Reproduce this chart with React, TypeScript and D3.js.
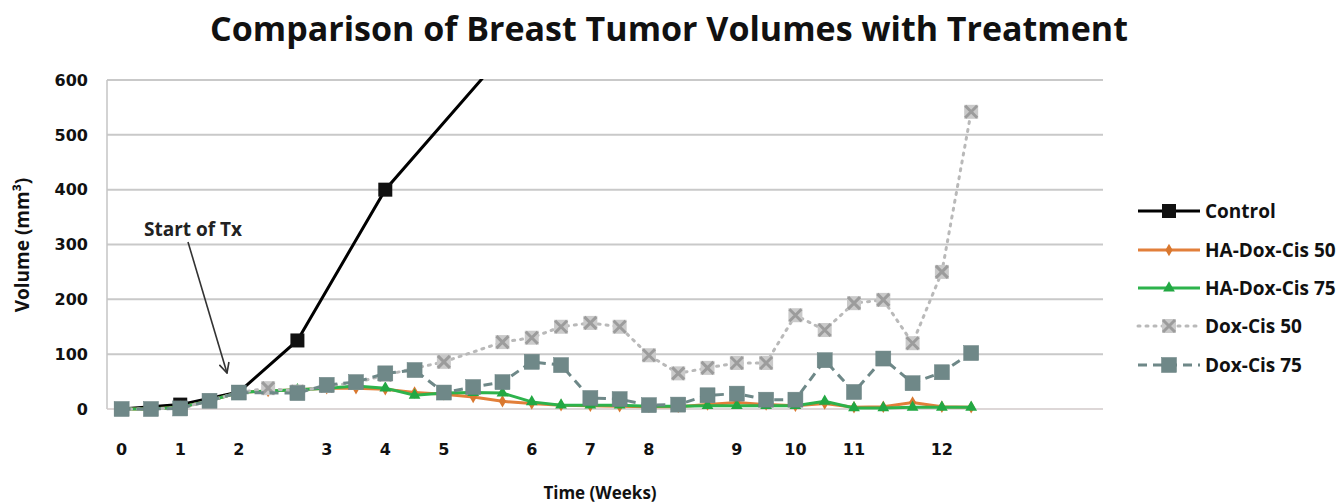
import React from 'react';
import * as d3 from 'd3';

// x categories (time points); only some carry a week label
const xLabels = ['0', '', '1', '', '2', '', '', '3', '', '4', '', '5', '', '', '6', '', '7', '', '8', '', '', '9', '', '10', '', '11', '', '', '12', '', '', '', '', ''];

const control = [0, null, 8, null, 31, null, 125, null, null, 400, null, null, null, 645];
const haDoxCis50 = [0, 0, 3, 15, 30, 33, 35, 38, 38, 36, 30, 27, 22, 14, 10, 7, 6, 5, 4, 4, 8, 12, 8, 6, 10, 3, 4, 12, 4, 3];
const haDoxCis75 = [0, 0, 3, 15, 30, 33, 35, 38, 42, 38, 25, 29, 30, 29, 13, 7, 7, 7, 5, 5, 6, 6, 6, 6, 14, 2, 2, 3, 3, 3];
const doxCis50 = [0, 0, 2, 15, 30, 38, 32, 42, 48, 62, null, 86, null, 122, 130, 150, 157, 150, 98, 65, 75, 84, 84, 171, 144, 193, 199, 120, 250, 542];
const doxCis75 = [0, 0, 1, 15, 30, null, 29, 44, 49, 65, 71, 30, 40, 49, 86, 80, 20, 18, 7, 8, 25, 28, 17, 17, 89, 31, 92, 47, 67, 102];

const yTicks = [0, 100, 200, 300, 400, 500, 600];

type Series = {
  name: string;
  values: (number | null)[];
  color: string;
  dash?: string;
  marker: 'square' | 'diamond' | 'triangle' | 'xsquare' | 'slate';
};

const series: Series[] = [
  { name: 'Control', values: control, color: '#000000', marker: 'square' },
  { name: 'HA-Dox-Cis 50', values: haDoxCis50, color: '#E27F3A', marker: 'diamond' },
  { name: 'HA-Dox-Cis 75', values: haDoxCis75, color: '#2DB34C', marker: 'triangle' },
  { name: 'Dox-Cis 50', values: doxCis50, color: '#B9B9B9', dash: '2,6', marker: 'xsquare' },
  { name: 'Dox-Cis 75', values: doxCis75, color: '#6E8888', dash: '9,6', marker: 'slate' },
];

const W = 1341;
const H = 504;
const plot = { left: 107, right: 1103, top: 80, bottom: 409 };

function Marker({ kind, x, y }: { kind: Series['marker']; x: number; y: number }) {
  if (kind === 'square') {
    return <rect x={x - 7} y={y - 7} width={14} height={14} fill="#111" />;
  }
  if (kind === 'slate') {
    return <rect x={x - 7.5} y={y - 7.5} width={15} height={15} fill="#6F8888" stroke="#6A8282" strokeWidth={0.5} />;
  }
  if (kind === 'diamond') {
    return <path d={d3.symbol(d3.symbolDiamond, 45)()!} transform={`translate(${x},${y})`} fill="#D9782F" />;
  }
  if (kind === 'triangle') {
    return <path d={d3.symbol(d3.symbolTriangle, 60)()!} transform={`translate(${x},${y})`} fill="#22A843" />;
  }
  return (
    <g transform={`translate(${x},${y})`}>
      <rect x={-7} y={-7} width={14} height={14} fill="#CACACA" />
      <path d="M-6,-6L6,6M6,-6L-6,6" stroke="#9C9C9C" strokeWidth={3} />
    </g>
  );
}

export default function App() {
  const x = d3.scaleBand<number>()
    .domain(xLabels.map((_, i) => i))
    .range([plot.left, plot.right])
    .padding(0);
  const cx = (i: number) => (x(i) as number) + x.bandwidth() / 2;

  const y = d3.scaleLinear().domain([0, 600]).range([plot.bottom, plot.top]);

  const line = d3.line<{ i: number; v: number }>()
    .x(d => cx(d.i))
    .y(d => y(d.v));

  const pts = (s: Series) =>
    s.values.map((v, i) => ({ i, v })).filter(d => d.v !== null) as { i: number; v: number }[];

  const legendX = 1138;
  const legendY = [211, 250, 288, 326, 365];

  return (
    <svg width={W} height={H} style={{ position: 'absolute', left: 0, top: 0, background: '#fff' }}>
      <defs>
        <clipPath id="plotClip">
          <rect x={plot.left} y={plot.top - 1} width={plot.right - plot.left} height={plot.bottom - plot.top + 20} />
        </clipPath>
        <marker id="arrowHead" viewBox="0 0 12 12" refX="11" refY="6" markerWidth="12" markerHeight="12" orient="auto" markerUnits="userSpaceOnUse">
          <path d="M1,1L11,6L1,11" fill="none" stroke="#333" strokeWidth={1.6} />
        </marker>
      </defs>

      <text x={669} y={41} textAnchor="middle" fontFamily="'Open Sans', sans-serif" fontWeight="bold" fontSize={34} fill="#111">
        Comparison of Breast Tumor Volumes with Treatment
      </text>

      {/* grid */}
      {yTicks.map(t => (
        <g key={t}>
          {t > 0 && <line x1={plot.left} x2={plot.right} y1={y(t)} y2={y(t)} stroke="#C9C9C9" strokeWidth={2} />}
          <text x={88} y={y(t)} dy="0.36em" textAnchor="end" fontFamily="'DejaVu Sans', sans-serif" fontWeight="bold" fontSize={16} fill="#111">
            {t}
          </text>
        </g>
      ))}
      <line x1={plot.left} x2={plot.left} y1={plot.top} y2={plot.bottom} stroke="#C4C4C4" strokeWidth={1.5} />
      <line x1={plot.left} x2={plot.right} y1={plot.bottom} y2={plot.bottom} stroke="#D2CACA" strokeWidth={1.5} />

      {xLabels.map((l, i) => l && (
        <text key={i} x={cx(i)} y={449} dy="0.36em" textAnchor="middle" fontFamily="'DejaVu Sans', sans-serif" fontWeight="bold" fontSize={16} fill="#111">
          {l}
        </text>
      ))}

      <text x={600} y={493} dy="0.36em" textAnchor="middle" fontFamily="'Open Sans', sans-serif" fontWeight="bold" fontSize={17} fill="#111">
        Time (Weeks)
      </text>
      <text transform={`translate(22,245) rotate(-90)`} dy="0.36em" textAnchor="middle" fontFamily="'Open Sans', sans-serif" fontWeight="bold" fontSize={19} fill="#111">
        Volume (mm³)
      </text>

      {/* series */}
      {series.map(s => (
        <g key={s.name} clipPath={s.name === 'Control' ? 'url(#plotClip)' : undefined}>
          <path d={line(pts(s)) || ''} fill="none" stroke={s.color} strokeWidth={3} strokeDasharray={s.dash} strokeLinecap={s.dash === '2,6' ? 'round' : 'butt'} />
          {pts(s).filter(d => d.v <= 600).map(d => (
            <Marker key={d.i} kind={s.marker} x={cx(d.i)} y={y(d.v)} />
          ))}
        </g>
      ))}

      {/* annotation */}
      <text x={144} y={236} fontFamily="'Open Sans', sans-serif" fontWeight="bold" fontSize={19} fill="#222">
        Start of Tx
      </text>
      <line x1={188} y1={242} x2={227} y2={373} stroke="#333" strokeWidth={1.6} markerEnd="url(#arrowHead)" />

      {/* legend */}
      {series.map((s, k) => (
        <g key={s.name}>
          <line x1={legendX} x2={legendX + 62} y1={legendY[k]} y2={legendY[k]} stroke={s.color} strokeWidth={3} strokeDasharray={s.dash} strokeLinecap={s.dash === '2,6' ? 'round' : 'butt'} />
          <Marker kind={s.marker} x={legendX + 31} y={legendY[k]} />
          <text x={1205} y={legendY[k]} dy="0.36em" fontFamily="'Open Sans', sans-serif" fontWeight="bold" fontSize={19} fill="#111">
            {s.name}
          </text>
        </g>
      ))}
    </svg>
  );
}
